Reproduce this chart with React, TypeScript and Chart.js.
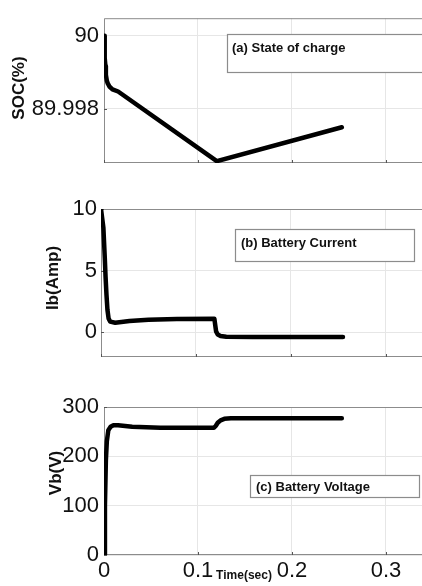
import React, { useEffect, useRef } from "react";
import { Chart, registerables } from "chart.js";

Chart.register(...registerables);

// ---------- data ----------
const X_TICKS = [0, 0.1, 0.2, 0.3];
const X_MAX = 0.3383;

const SOC_TIME = [0, 0.0005, 0.001, 0.0015, 0.002, 0.003, 0.004, 0.006, 0.009, 0.015, 0.12, 0.253];
const SOC_VALUES = [90.0, 89.99965, 89.99939, 89.99917, 89.99893, 89.99877, 89.99869, 89.9986, 89.99853, 89.99847, 89.99656, 89.99749];
const SOC_TICKS = [89.998, 90];
const SOC_RANGE = [89.99651, 90.00048];

const IB_TIME = [0, 0.0025, 0.004, 0.0048, 0.0058, 0.0068, 0.008, 0.0096, 0.015, 0.03, 0.05, 0.08, 0.1195, 0.1205, 0.1213, 0.123, 0.126, 0.132, 0.16, 0.255];
const IB_VALUES = [10, 8.5, 6, 4.5, 3, 1.8, 1.1, 0.85, 0.75, 0.9, 1.0, 1.05, 1.08, 0.5, 0.05, -0.2, -0.32, -0.38, -0.4, -0.4];
const IB_TICKS = [0, 5, 10];
const IB_RANGE = [-2.03, 10];

const VB_TIME = [0, 0.001, 0.002, 0.003, 0.0046, 0.007, 0.01, 0.015, 0.03, 0.06, 0.1, 0.117, 0.119, 0.121, 0.124, 0.128, 0.135, 0.2, 0.253];
const VB_VALUES = [0, 100, 192, 230, 253, 260, 263, 263, 260, 258, 258, 258, 262, 268, 273, 276, 277, 277, 277];
const VB_TICKS = [0, 100, 200, 300];
const VB_RANGE = [0, 300];

// ---------- styles ----------
const FONT = "'Liberation Sans', Arial, sans-serif";
const FRAME = "#8c8c8c";
const GRID = "#e6e6e6";
const INK = "#111111";

const fmt = (v: number) => String(parseFloat(Number(v).toFixed(4)));

const decorPlugin = {
  id: "decor",
  beforeDatasetsDraw(chart: any) {
    const { ctx, chartArea: a, scales } = chart;
    ctx.save();
    ctx.strokeStyle = FRAME;
    ctx.lineWidth = 1;
    ctx.beginPath();
    ctx.moveTo(a.right, a.top + 0.5);
    ctx.lineTo(a.left + 0.5, a.top + 0.5);
    ctx.lineTo(a.left + 0.5, a.bottom - 0.5);
    ctx.lineTo(a.right, a.bottom - 0.5);
    ctx.stroke();
    ctx.strokeStyle = "#555";
    ctx.beginPath();
    for (const t of scales.x.ticks) {
      const px = Math.round(scales.x.getPixelForValue(t.value)) + 0.5;
      ctx.moveTo(px, a.bottom);
      ctx.lineTo(px, a.bottom - 3);
    }
    for (const t of scales.y.ticks) {
      const py = Math.round(scales.y.getPixelForValue(t.value)) + 0.5;
      ctx.moveTo(a.left, py);
      ctx.lineTo(a.left + 3, py);
    }
    ctx.stroke();
    ctx.restore();
  },
  afterDraw(chart: any, _a: any, opts: any) {
    const { ctx } = chart;
    ctx.save();
    for (const b of opts.boxes || []) {
      ctx.fillStyle = "#ffffff";
      ctx.fillRect(b.x, b.y, b.w, b.h);
      ctx.strokeStyle = FRAME;
      ctx.lineWidth = 1.2;
      ctx.strokeRect(b.x + 0.5, b.y + 0.5, b.w, b.h);
      ctx.fillStyle = INK;
      ctx.font = `bold 13px ${FONT}`;
      ctx.textAlign = "left";
      ctx.textBaseline = "alphabetic";
      ctx.fillText(b.text, b.tx, b.ty);
    }
    for (const l of opts.labels || []) {
      ctx.save();
      ctx.translate(l.x, l.y);
      if (l.rotate) ctx.rotate(l.rotate);
      ctx.fillStyle = INK;
      ctx.font = l.font;
      ctx.textAlign = "center";
      ctx.textBaseline = l.baseline || "middle";
      ctx.fillText(l.text, 0, 0);
      ctx.restore();
    }
    ctx.restore();
  },
};

function makeConfig(p: any): any {
  const data = p.times.map((t: number, i: number) => ({ x: t, y: p.values[i] }));
  return {
    type: "line",
    data: {
      datasets: [
        {
          data,
          borderColor: "#000",
          borderWidth: 4.5,
          pointRadius: 0,
          tension: 0,
          borderJoinStyle: "round",
          borderCapStyle: "round",
        },
      ],
    },
    options: {
      animation: false,
      responsive: false,
      devicePixelRatio: 1,
      layout: { padding: { top: p.padTop, left: 0, right: 0, bottom: 0 } },
      plugins: {
        legend: { display: false },
        tooltip: { enabled: false },
        decor: { boxes: p.boxes, labels: p.labels },
      },
      scales: {
        x: {
          type: "linear",
          min: 0,
          max: X_MAX,
          afterBuildTicks: (s: any) => {
            s.ticks = X_TICKS.map((v) => ({ value: v }));
          },
          afterFit: (s: any) => {
            s.height = p.xHeight;
          },
          ticks: {
            display: p.showX,
            padding: 3,
            color: INK,
            font: { family: FONT, size: 22 },
            maxRotation: 0,
            autoSkip: false,
            callback: (v: any) => fmt(v),
          },
          grid: { color: GRID, lineWidth: 1, drawTicks: false },
          border: { display: false },
        },
        y: {
          type: "linear",
          min: p.range[0],
          max: p.range[1],
          afterBuildTicks: (s: any) => {
            s.ticks = p.ticks.map((v: number) => ({ value: v }));
          },
          afterFit: (s: any) => {
            s.width = p.yWidth;
          },
          ticks: {
            padding: p.tickPad,
            color: INK,
            font: { family: FONT, size: 22 },
            autoSkip: false,
            callback: (v: any) => fmt(v),
          },
          grid: { color: GRID, lineWidth: 1, drawTicks: false },
          border: { display: false },
        },
      },
    },
    plugins: [decorPlugin],
  };
}

const PANELS = [
  {
    top: 0,
    height: 190,
    cfg: {
      times: SOC_TIME,
      values: SOC_VALUES,
      ticks: SOC_TICKS,
      range: SOC_RANGE,
      padTop: 14,
      xHeight: 27,
      yWidth: 104,
      tickPad: 5,
      showX: false,
      boxes: [{ x: 227, y: 34, w: 210, h: 38, text: "(a) State of charge", tx: 232, ty: 52 }],
      labels: [{ text: "SOC(%)", x: 19, y: 88, rotate: -Math.PI / 2, font: `bold 17px ${FONT}` }],
    },
  },
  {
    top: 190,
    height: 190,
    cfg: {
      times: IB_TIME,
      values: IB_VALUES,
      ticks: IB_TICKS,
      range: IB_RANGE,
      padTop: 19,
      xHeight: 23,
      yWidth: 101,
      tickPad: 4,
      showX: false,
      boxes: [{ x: 235, y: 39, w: 179, h: 32, text: "(b) Battery Current", tx: 241, ty: 57 }],
      labels: [{ text: "Ib(Amp)", x: 53, y: 88, rotate: -Math.PI / 2, font: `bold 17px ${FONT}` }],
    },
  },
  {
    top: 380,
    height: 206,
    cfg: {
      times: VB_TIME,
      values: VB_VALUES,
      ticks: VB_TICKS,
      range: VB_RANGE,
      padTop: 27,
      xHeight: 31,
      yWidth: 104,
      tickPad: 5,
      showX: true,
      boxes: [{ x: 250, y: 95, w: 169, h: 22, text: "(c) Battery Voltage", tx: 256, ty: 111 }],
      labels: [
        { text: "Vb(V)", x: 56, y: 93, rotate: -Math.PI / 2, font: `bold 17px ${FONT}` },
        { text: "Time(sec)", x: 244, y: 199, font: `bold 12px ${FONT}`, baseline: "alphabetic" },
      ],
    },
  },
];

export default function App() {
  const r0 = useRef<HTMLCanvasElement>(null);
  const r1 = useRef<HTMLCanvasElement>(null);
  const r2 = useRef<HTMLCanvasElement>(null);
  const refs = [r0, r1, r2];

  useEffect(() => {
    const charts = PANELS.map((p, i) => new Chart(refs[i].current as HTMLCanvasElement, makeConfig(p.cfg)));
    return () => charts.forEach((c) => c.destroy());
  }, []);

  return (
    <div style={{ position: "absolute", left: 0, top: 0, width: 422, height: 586, background: "#fff", overflow: "hidden" }}>
      {PANELS.map((p, i) => (
        <canvas
          key={i}
          ref={refs[i]}
          width={422}
          height={p.height}
          style={{ position: "absolute", left: 0, top: p.top, width: 422, height: p.height }}
        />
      ))}
    </div>
  );
}
